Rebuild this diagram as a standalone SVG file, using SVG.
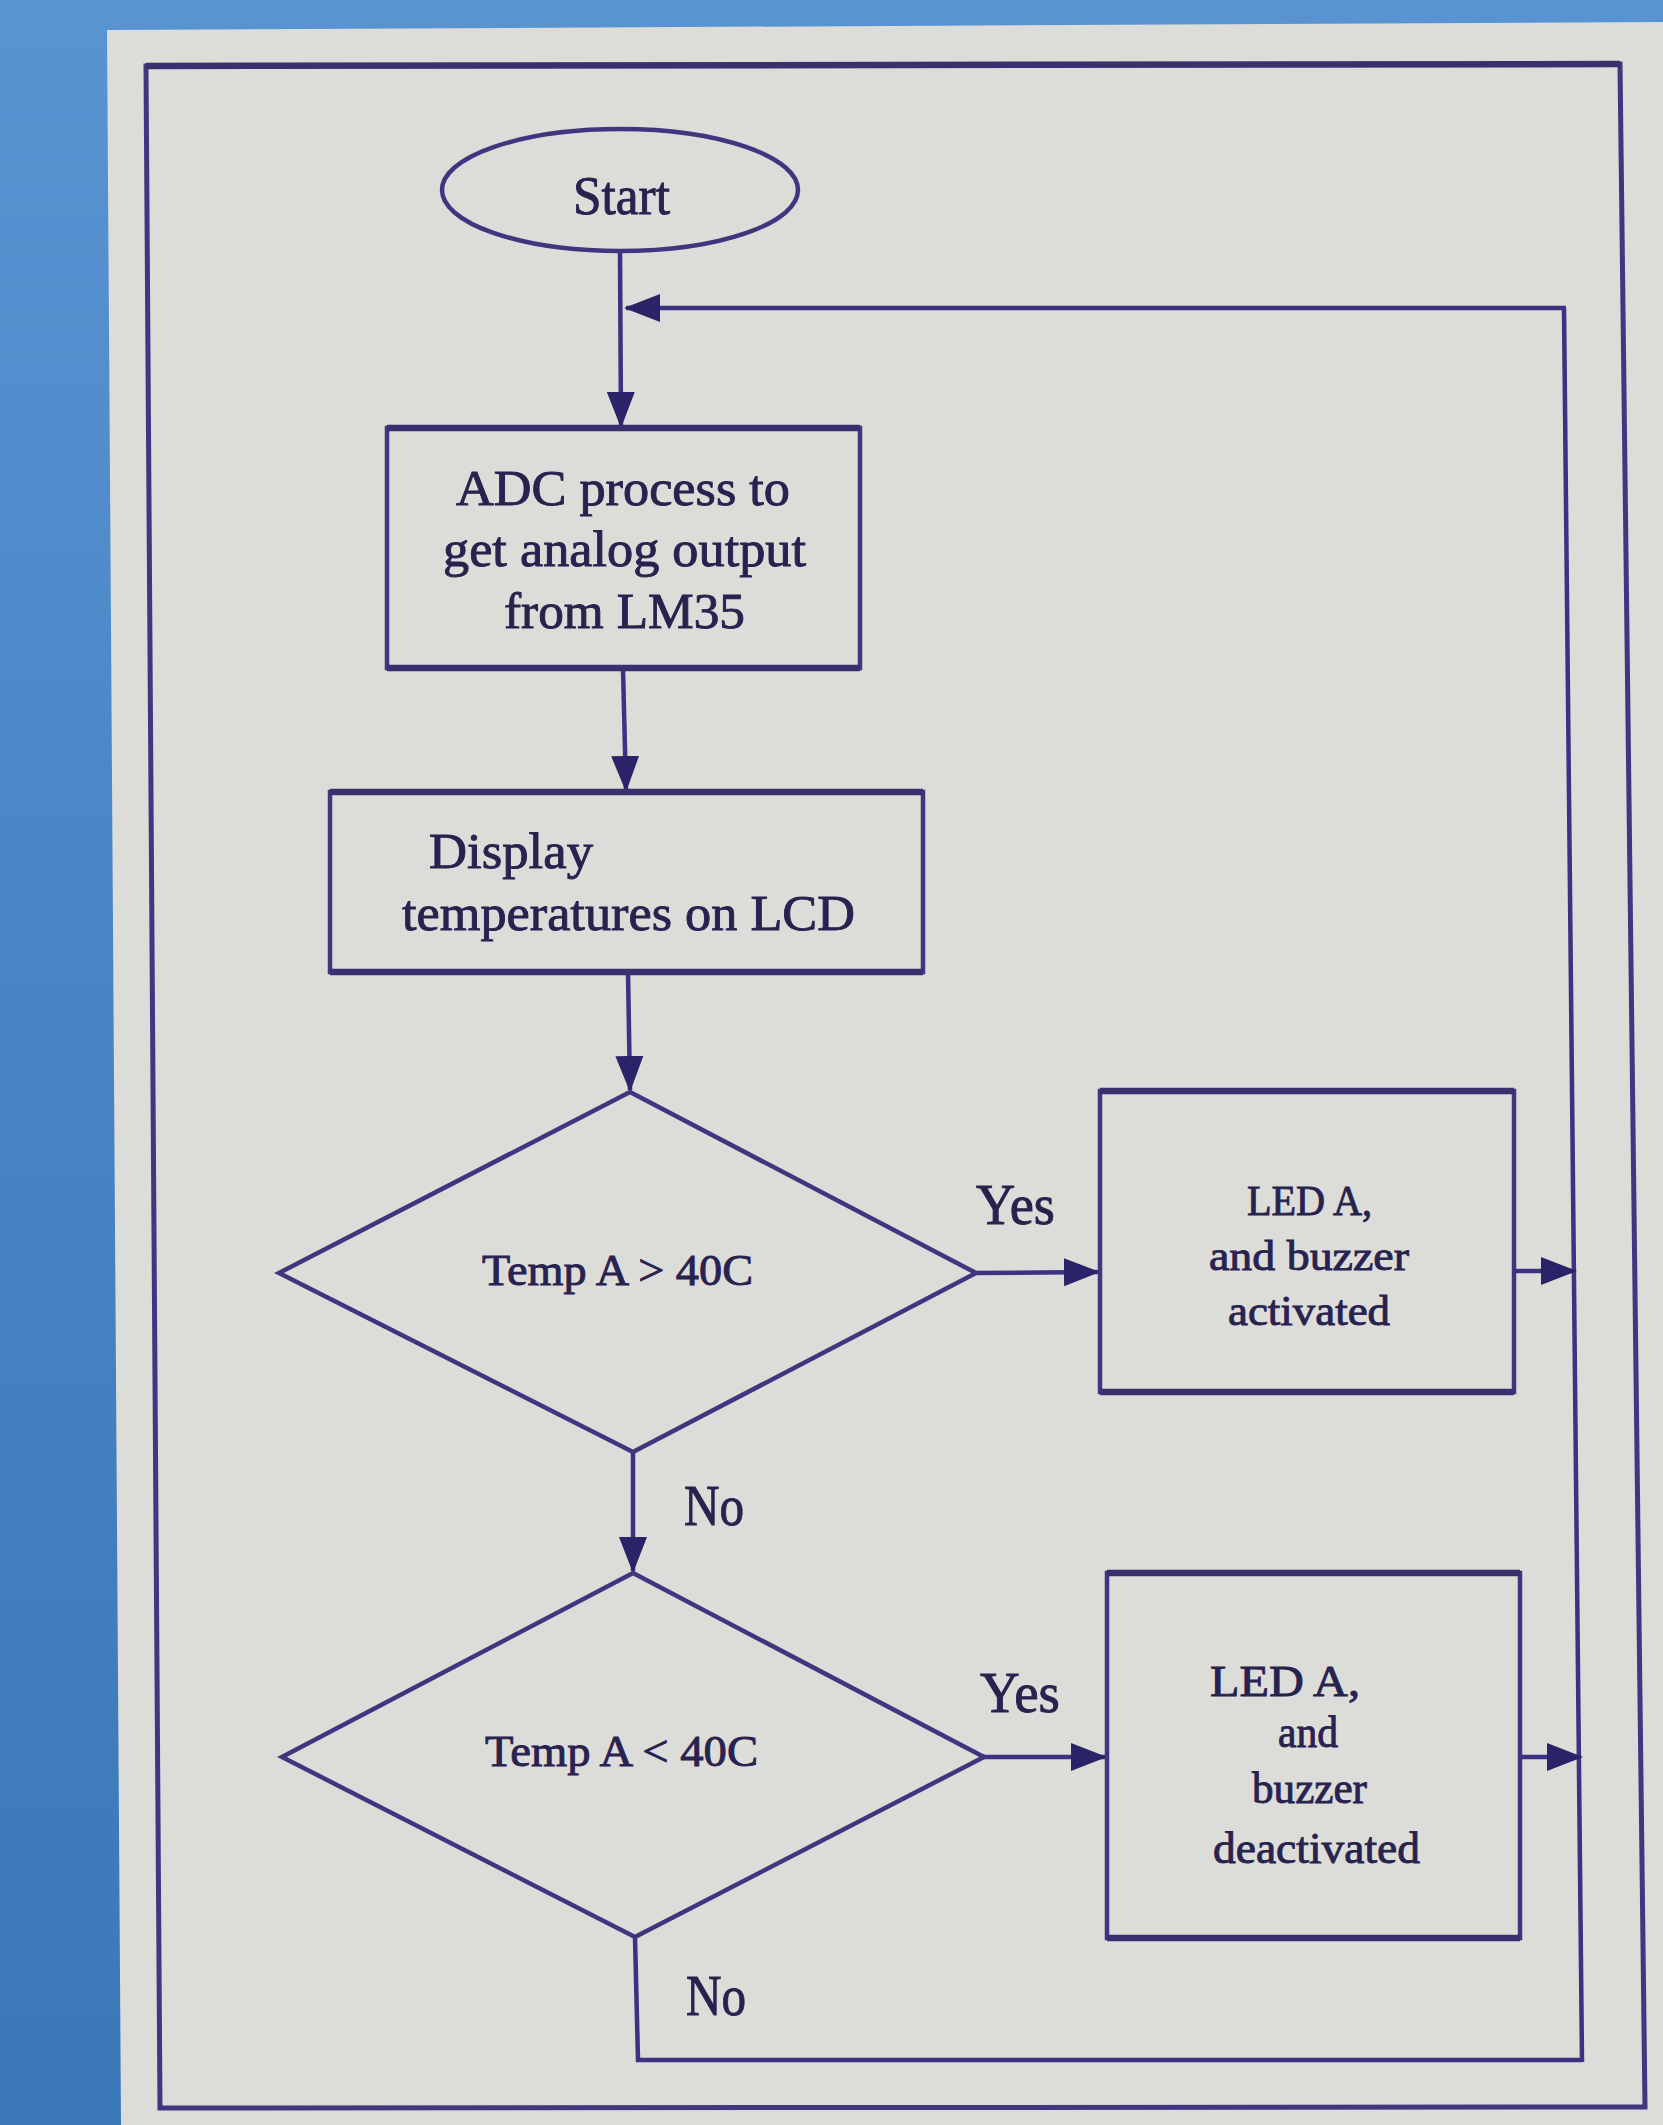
<svg xmlns="http://www.w3.org/2000/svg" width="1663" height="2125" viewBox="0 0 1663 2125">
  <defs>
    <linearGradient id="bg" x1="0" y1="0" x2="0" y2="1">
      <stop offset="0" stop-color="#5a93d2"/>
      <stop offset="0.5" stop-color="#4784c4"/>
      <stop offset="1" stop-color="#3b78b8"/>
    </linearGradient>
    <marker id="arr" markerUnits="userSpaceOnUse" markerWidth="36" markerHeight="30" refX="34" refY="15" orient="auto">
      <path d="M0,1 L36,15 L0,29 Z" fill="#2b2368"/>
    </marker>
    <style>
      .shape { fill: none; stroke: #40367f; stroke-width: 4.5; stroke-linejoin: miter; }
      .top { fill: none; stroke: #3a3070; stroke-width: 6.5; }
      .conn { fill: none; stroke: #3b3282; stroke-width: 4.5; }
      .t { font-family: "Liberation Serif", "Times New Roman", serif; fill: #28224f; stroke: #28224f; stroke-width: 0.9; }
    </style>
  </defs>

  <rect x="0" y="0" width="1663" height="2125" fill="url(#bg)"/>
  <polygon points="107,30 1663,22 1663,2125 121,2125" fill="#dcdcd9"/>
  <polygon points="146,66 1620,64 1645,2107 160,2108" fill="none" stroke="#41367f" stroke-width="5"/>
  <line x1="146" y1="66" x2="1620" y2="64" stroke="#3a3070" stroke-width="6.5"/>

  <g id="connectors">
    <path class="conn" d="M620,251 L621,426" marker-end="url(#arr)"/>
    <path class="conn" d="M635,1937 L638,2060 L1582,2060" stroke-width="5"/>
    <path class="conn" d="M1582,2062 L1564,308" stroke-width="3.5"/>
    <path class="conn" d="M1566,308 L626,308" stroke-width="7" marker-end="url(#arr)"/>
    <path class="conn" d="M623,668 L626,790" marker-end="url(#arr)"/>
    <path class="conn" d="M628,972 L630,1090" marker-end="url(#arr)"/>
    <path class="conn" d="M633,1452 L633,1571" marker-end="url(#arr)"/>
    <path class="conn" d="M974,1273 L1098,1272" stroke-width="5.5" marker-end="url(#arr)"/>
    <path class="conn" d="M1514,1271 L1575,1271" stroke-width="5.5" marker-end="url(#arr)"/>
    <path class="conn" d="M982,1757 L1105,1757" stroke-width="5.5" marker-end="url(#arr)"/>
    <path class="conn" d="M1520,1757 L1581,1757" stroke-width="5.5" marker-end="url(#arr)"/>
    <text class="t" x="976" y="1224" font-size="56" textLength="79" lengthAdjust="spacingAndGlyphs">Yes</text>
    <text class="t" x="684" y="1525" font-size="56" textLength="60" lengthAdjust="spacingAndGlyphs">No</text>
    <text class="t" x="980" y="1712" font-size="56" textLength="80" lengthAdjust="spacingAndGlyphs">Yes</text>
    <text class="t" x="686" y="2015" font-size="56" textLength="60" lengthAdjust="spacingAndGlyphs">No</text>
  </g>

  <g id="start">
    <ellipse class="shape" cx="620" cy="190" rx="178" ry="61" stroke-width="3.5"/>
    <text class="t" x="573" y="214" font-size="54" textLength="97" lengthAdjust="spacingAndGlyphs">Start</text>
  </g>

  <g id="adc">
    <rect class="shape" x="387" y="428" width="473" height="240"/>
    <line class="top" x1="387" y1="428" x2="860" y2="428"/>
    <line class="top" x1="387" y1="668" x2="860" y2="668"/>
    <text class="t" x="456" y="505" font-size="50" textLength="334" lengthAdjust="spacingAndGlyphs">ADC process to</text>
    <text class="t" x="443" y="566" font-size="50" textLength="363" lengthAdjust="spacingAndGlyphs">get analog output</text>
    <text class="t" x="504" y="628" font-size="50" textLength="241" lengthAdjust="spacingAndGlyphs">from LM35</text>
  </g>

  <g id="display">
    <rect class="shape" x="330" y="792" width="593" height="180"/>
    <line class="top" x1="330" y1="792" x2="923" y2="792"/>
    <line class="top" x1="330" y1="972" x2="923" y2="972"/>
    <text class="t" x="429" y="868" font-size="50" textLength="164" lengthAdjust="spacingAndGlyphs">Display</text>
    <text class="t" x="402" y="930" font-size="50" textLength="453" lengthAdjust="spacingAndGlyphs">temperatures on LCD</text>
  </g>

  <g id="decision1">
    <polygon class="shape" points="630,1092 976,1273 633,1452 279,1273"/>
    <text class="t" x="482" y="1285" font-size="44" textLength="271" lengthAdjust="spacingAndGlyphs">Temp A &gt; 40C</text>
  </g>

  <g id="decision2">
    <polygon class="shape" points="633,1573 984,1757 635,1937 282,1757"/>
    <text class="t" x="485" y="1766" font-size="44" textLength="273" lengthAdjust="spacingAndGlyphs">Temp A &lt; 40C</text>
  </g>

  <g id="activate">
    <rect class="shape" x="1100" y="1091" width="414" height="301"/>
    <line class="top" x1="1100" y1="1091" x2="1514" y2="1091"/>
    <line class="top" x1="1100" y1="1392" x2="1514" y2="1392"/>
    <text class="t" x="1247" y="1215" font-size="42" textLength="125" lengthAdjust="spacingAndGlyphs">LED A,</text>
    <text class="t" x="1209" y="1270" font-size="42" textLength="200" lengthAdjust="spacingAndGlyphs">and buzzer</text>
    <text class="t" x="1228" y="1325" font-size="42" textLength="162" lengthAdjust="spacingAndGlyphs">activated</text>
  </g>

  <g id="deactivate">
    <rect class="shape" x="1107" y="1573" width="413" height="365"/>
    <line class="top" x1="1107" y1="1573" x2="1520" y2="1573"/>
    <line class="top" x1="1107" y1="1938" x2="1520" y2="1938"/>
    <text class="t" x="1210" y="1696" font-size="44" textLength="150" lengthAdjust="spacingAndGlyphs">LED A,</text>
    <text class="t" x="1278" y="1747" font-size="44" textLength="60" lengthAdjust="spacingAndGlyphs">and</text>
    <text class="t" x="1252" y="1803" font-size="44" textLength="115" lengthAdjust="spacingAndGlyphs">buzzer</text>
    <text class="t" x="1213" y="1863" font-size="44" textLength="207" lengthAdjust="spacingAndGlyphs">deactivated</text>
  </g>
</svg>
